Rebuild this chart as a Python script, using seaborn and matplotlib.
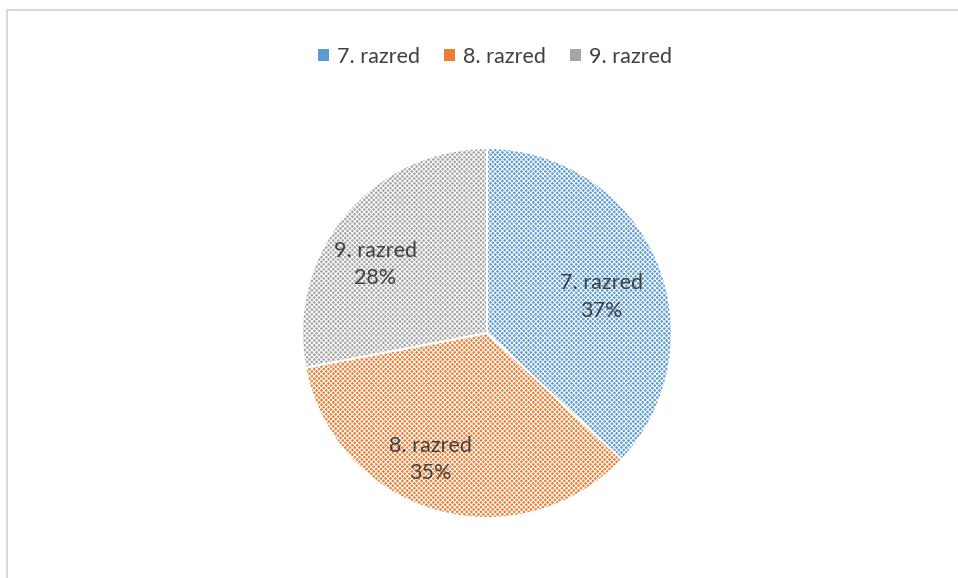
import matplotlib
matplotlib.use("Agg")
import numpy as np
import matplotlib.pyplot as plt
from matplotlib.lines import Line2D
from matplotlib.patches import Patch
import seaborn as sns

categories = ["7. razred", "8. razred", "9. razred"]
values = [37, 35, 28]
colors = ["#5B9BD5", "#ED7D31", "#A5A5A5"]

sns.set_theme(style="white")
plt.rcParams["font.family"] = ["Lato", "DejaVu Sans"]
plt.rcParams["hatch.linewidth"] = 0.7

W, H = 958, 578
fig = plt.figure(figsize=(W / 100, H / 100), dpi=100)
fig.patch.set_facecolor("white")

cx, cy, r = 487, 333, 185
ax = fig.add_axes([(cx - r) / W, (H - cy - r) / H, 2 * r / W, 2 * r / H])

total = sum(values)
labels = [f"{c}\n{v / total * 100:.0f}%" for c, v in zip(categories, values)]

wedges, texts = ax.pie(values, colors=colors, startangle=90, counterclock=False,
                       labels=labels, labeldistance=0.7,
                       wedgeprops=dict(edgecolor="white", linewidth=1.5, hatch="xxxxxxx"),
                       textprops=dict(color="#404040", fontsize=15.5, ha="center", va="center",
                                      linespacing=1.45))
# Excel-like label placement: radius fraction and angular shift per wedge
lab_r = [0.65, 0.75, 0.71]
lab_shift = [-6, -8, 8]
for w, t, lr, sh in zip(wedges, texts, lab_r, lab_shift):
    mid = np.deg2rad((w.theta1 + w.theta2) / 2 + sh)
    t.set_position((lr * np.cos(mid), lr * np.sin(mid)))
    t.set_ha("center")
    t.set_va("center")
ax.set_xlim(-1, 1)
ax.set_ylim(-1, 1)
ax.set_aspect("equal")
ax.axis("off")

handles = [Patch(facecolor=c, edgecolor="none") for c in colors]
fig.legend(handles, categories, loc="center", bbox_to_anchor=(495 / W, 1 - 57 / H),
           ncol=3, frameon=False, fontsize=15.5, labelcolor="#404040",
           handlelength=0.5, handleheight=0.5, handletextpad=0.4, columnspacing=1.1)

lc = "#D9D9D9"
fig.add_artist(Line2D([7 / W, 1], [1 - 10 / H, 1 - 10 / H], color=lc, lw=1.5, transform=fig.transFigure))
fig.add_artist(Line2D([7 / W, 7 / W], [0, 1 - 10 / H], color=lc, lw=1.5, transform=fig.transFigure))

fig.savefig("out.png", dpi=100, facecolor="white")
